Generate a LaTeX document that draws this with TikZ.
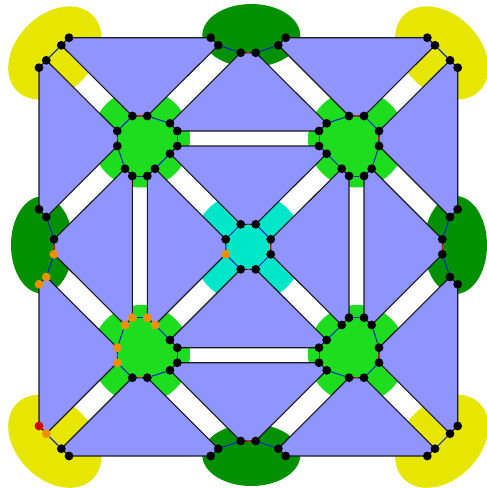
\documentclass[tikz,border=0pt]{standalone}
\pgfdeclarelayer{bg}
\pgfsetlayers{bg,main}
\definecolor{faceblue}{RGB}{144,148,255}
\definecolor{cornery}{RGB}{230,230,0}
\definecolor{sideg}{RGB}{0,144,0}
\definecolor{hubg}{RGB}{30,220,30}
\definecolor{hubc}{RGB}{0,230,200}
\definecolor{dotor}{RGB}{240,144,0}
\definecolor{dotre}{RGB}{208,0,0}
\definecolor{linkb}{RGB}{0,32,208}
\definecolor{linkr}{RGB}{230,20,20}
\tikzset{
  dot/.style={circle,fill=black,draw=none,inner sep=0pt,minimum size=8.8pt},
  dotO/.style={dot,fill=dotor},
  dotR/.style={dot,fill=dotre},
  face/.style={fill=faceblue,draw=black!90,line width=1.1pt,line join=round},
  blink/.style={linkb,line width=1pt},
  rlink/.style={linkr,line width=1.2pt,shorten >=1.2pt,shorten <=1.2pt}
}
\newcommand{\facepoly}[6]{\path[face] (#1.center)--(#2.center)--(#3.center)--(#4.center)--(#5.center)--(#6.center)--cycle;}
\begin{document}
\begin{tikzpicture}[x=1pt,y=-1pt]
\useasboundingbox (0,0) rectangle (487,488);
% black vertices
\foreach \n/\x/\y in {
 A1/132.3/116,A2/147.3/116,A3/170/123.3,A4/177.3/131,A5/177.3/146,A6/170/153.7,A7/155/168.7,A8/147.3/176,A9/132.3/176,A10/125/168.7,A11/117.3/146,A12/117.3/131,
 B1/349/116,B2/364/116,B3/379/131,B4/379/146,B5/371.7/168.7,B6/364/176,B7/349/176,B8/341.7/168.7,B9/326.7/153.7,B10/319/146,B11/319/131,B12/326.7/123.3,
 C4/170/340,C5/177.3/347.7,C6/177.3/362.7,C7/170/370.3,C8/147.3/377.7,C9/132.3/377.7,
 D1/349/317.7,D2/364/317.7,D3/371.7/325,D4/379/347.7,D5/379/362.7,D6/364/377.7,D7/349/377.7,D8/326.7/370.3,D9/319/362.7,D10/319/347.7,D11/326.7/340,D12/341.7/325,
 E1/240.7/224.3,E2/255.7/224.3,E3/270.7/239.3,E4/270.7/254.3,E5/255.7/269.3,E6/240.7/269.3,E8/225.7/239.3,
 T1/210.7/37.7,T2/218.3/45.3,T3/240.7/52.7,T4/255.7/52.7,T5/278.3/45.3,T6/285.7/37.7,
 U1/210.7/456,U2/218.3/448.7,U3/240.7/441,U4/255.7/441,U5/278.3/448.7,U6/285.7/456,
 L1/39/209.3,L2/46.3/217,L3/54/239.3,
 R1/457.7/209.3,R2/450/217,R3/442.3/239.3,R4/442.3/254.3,R5/450/277,R6/457.7/284.3,
 P1/69/37.7,P2/61.3/45.3,P3/46.3/60.3,P4/39/67.7,
 Q1/427.3/37.7,Q2/435/45.3,Q3/450/60.3,Q4/457.7/67.7,
 V3/61.3/448.7,V4/69/456,
 W1/457.7/426,W2/450/433.7,W3/435/448.7,W4/427.3/456}
 {\node[dot] (\n) at (\x,\y) {};}
% orange vertices
\foreach \n/\x/\y in {C1/132.3/317.7,C2/147.3/317.7,C3/155/325,C10/117.3/362.7,C11/117.3/347.7,C12/125/325,E7/225.7/254.3,L4/54/254.3,L5/46.3/277,L6/39/284.3,V2/46.3/433.7}
 {\node[dotO] (\n) at (\x,\y) {};}
% red vertex
\node[dotR] (V1) at (39,426) {};
% blue and red connectors
\foreach \a/\b in {A2/A3,A4/A5,A6/A7,A8/A9,A10/A11,A12/A1,
 B2/B3,B4/B5,B6/B7,B8/B9,B10/B11,B12/B1,
 C1/C2,C3/C4,C5/C6,C7/C8,C9/C10,C11/C12,
 D1/D2,D3/D4,D5/D6,D7/D8,D9/D10,D11/D12,
 E1/E8,E2/E3,E4/E5,E6/E7,
 T2/T3,T4/T5,U2/U3,U4/U5,L2/L3,L4/L5,R2/R3,R4/R5,
 P2/P3,Q2/Q3,V2/V3,W2/W3}
 {\draw[blink] (\a) -- (\b);}
\foreach \a/\b in {A1/A2,A11/A12,B1/B2,B3/B4,C8/C9,C10/C11,D6/D7,D4/D5,
 E1/E2,E3/E4,E5/E6,E7/E8,T3/T4,U3/U4,L3/L4,R3/R4}
 {\draw[rlink] (\a) -- (\b);}
\begin{pgfonlayer}{bg}
% coloured regions
\fill[cornery,shift={(54.8,53)},rotate=45] (0,0) ellipse [x radius=53.5,y radius=38.5];
\fill[cornery,shift={(441.7,53)},rotate=-45] (0,0) ellipse [x radius=53.5,y radius=38.5];
\fill[cornery,shift={(54.8,441.2)},rotate=-45] (0,0) ellipse [x radius=53.5,y radius=38.5];
\fill[cornery,shift={(441.7,441.2)},rotate=45] (0,0) ellipse [x radius=53.5,y radius=38.5];
\fill[sideg] (251.3,35.5) ellipse [x radius=49,y radius=31.5];
\fill[sideg] (251.3,455) ellipse [x radius=49,y radius=31];
\fill[sideg] (42,245) ellipse [x radius=31,y radius=48.5];
\fill[sideg] (455.5,245) ellipse [x radius=31.5,y radius=49];
\fill[hubg] (141,138.5) circle [radius=49];
\fill[hubg] (356.5,139) circle [radius=48.5];
\fill[hubg] (141,354) circle [radius=49];
\fill[hubg] (357,354) circle [radius=49];
\fill[hubc] (248,247.5) circle [radius=55.5];
% faces
\path[face] (P1.center)--(T1.center)--(T2.center)--(A2.center)--(A1.center)--(P2.center)--cycle;
\facepoly{T6}{Q1}{Q2}{B2}{B1}{T5}
\facepoly{T3}{T4}{B12}{B11}{A4}{A3}
\facepoly{A5}{B10}{B9}{E2}{E1}{A6}
\facepoly{P3}{A12}{A11}{L2}{L1}{P4}
\facepoly{L3}{A10}{A9}{C1}{C12}{L4}
\facepoly{A8}{A7}{E8}{E7}{C3}{C2}
\facepoly{B7}{B8}{E3}{E4}{D12}{D1}
\facepoly{B6}{B5}{R3}{R4}{D3}{D2}
\facepoly{Q3}{Q4}{R1}{R2}{B4}{B3}
\facepoly{C11}{L5}{L6}{V1}{V2}{C10}
\facepoly{D4}{R5}{R6}{W1}{W2}{D5}
\facepoly{C5}{D10}{D11}{E5}{E6}{C4}
\facepoly{C6}{D9}{D8}{U4}{U3}{C7}
\facepoly{V4}{U1}{U2}{C8}{C9}{V3}
\facepoly{U6}{W4}{W3}{D6}{D7}{U5}
\end{pgfonlayer}
\end{tikzpicture}
\end{document}
